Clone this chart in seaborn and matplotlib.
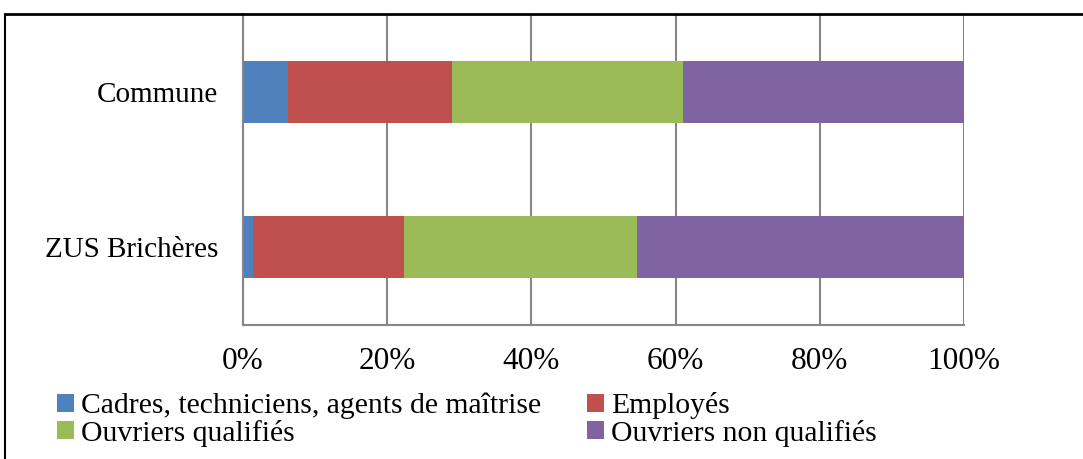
import pandas as pd
import numpy as np
import matplotlib
matplotlib.use('Agg')
import matplotlib.pyplot as plt
from matplotlib.patches import Patch
from matplotlib.lines import Line2D
import seaborn as sns

# Répartition des emplois par catégorie (%)
zones = ['Commune', 'ZUS Brichères']
categories = ['Cadres, techniciens, agents de maîtrise', 'Employés',
              'Ouvriers qualifiés', 'Ouvriers non qualifiés']
cadres = [6.3, 1.4]
employes = [22.7, 20.9]
ouvriers_qual = [32.0, 32.3]
ouvriers_non_qual = [39.0, 45.4]
colors = ['#4F81BD', '#C0504D', '#9BBB59', '#8064A2']

sns.set_style('white')
plt.rcParams['font.family'] = ['Liberation Serif', 'DejaVu Serif']
plt.rcParams['text.color'] = 'black'

values = np.array([cadres, employes, ouvriers_qual, ouvriers_non_qual])
cum = values.cumsum(axis=0) / 100.0

fig = plt.figure(figsize=(10.83, 4.59), dpi=100)
ax = fig.add_axes([243 / 1083, 1 - 325 / 459, (964 - 243) / 1083, (325 - 14) / 459])

# stacked bars: draw the cumulative totals from largest to smallest
for k in range(len(categories) - 1, -1, -1):
    df = pd.DataFrame({'zone': zones, 'cum': cum[k]})
    sns.barplot(data=df, x='cum', y='zone', color=colors[k], orient='h',
                width=0.4, linewidth=0, saturation=1, ax=ax)

grey = '#868686'
ax.set_xlim(0, 1)
ax.set_xticks(np.arange(0, 1.01, 0.2))
ax.set_xticklabels([f'{int(round(t * 100))}%' for t in np.arange(0, 1.01, 0.2)])
ax.grid(axis='x', color=grey, linewidth=1.5)
ax.set_axisbelow(True)
ax.set_xlabel('')
ax.set_ylabel('')
for s in ['top', 'right']:
    ax.spines[s].set_visible(False)
for s in ['left', 'bottom']:
    ax.spines[s].set_color(grey)
    ax.spines[s].set_linewidth(1.5)
ax.set_yticks([-0.5, 0.5, 1.5], minor=True)
ax.tick_params(axis='y', which='major', length=0, labelsize=21, pad=18, colors='black')
ax.tick_params(axis='y', which='minor', length=6, width=1.5, color=grey)
ax.tick_params(axis='x', length=6, width=1.5, color=grey, labelsize=22.5, pad=10,
               labelcolor='black')

handles = [Patch(facecolor=c, edgecolor='none') for c in colors]
order = [0, 2, 1, 3]
fig.legend([handles[i] for i in order], [categories[i] for i in order],
           loc='upper left', bbox_to_anchor=(57 / 1083, 1 - 392 / 459), ncol=2,
           frameon=False, fontsize=21.3, handlelength=0.56, handleheight=0.56,
           handletextpad=0.25, columnspacing=1.55, labelspacing=0.02,
           labelcolor='black', borderaxespad=0, borderpad=0)

# chart frame
fig.add_artist(Line2D([5 / 1083, 5 / 1083], [0, 1 - 14 / 459], color='black',
                      linewidth=1.5, transform=fig.transFigure))
fig.add_artist(Line2D([5 / 1083, 1], [1 - 14 / 459, 1 - 14 / 459], color='black',
                      linewidth=2, transform=fig.transFigure))

fig.savefig('out.png', dpi=100)
